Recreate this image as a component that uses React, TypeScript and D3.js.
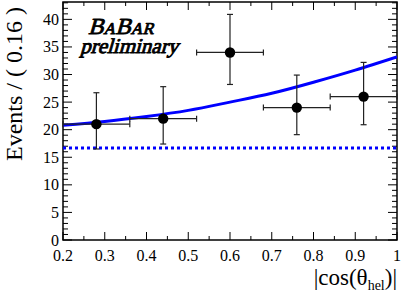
import React from "react";
import * as d3 from "d3";

// data points (bin centres, counts and asymmetric Poisson errors)
const binCenters = [0.28, 0.44, 0.6, 0.76, 0.92];
const binHalfWidth = 0.08;
const events = [21, 22, 34, 24, 26];
const errLow = [16.5, 17.4, 28.2, 19.1, 20.9];
const errHigh = [26.7, 27.8, 40.9, 29.9, 32.2];

// fitted total pdf
const fitX = [0.2, 0.3, 0.4, 0.5, 0.6, 0.7, 0.8, 0.9, 1.0];
const fitY = [20.8, 21.5, 22.4, 23.5, 25.0, 26.6, 28.6, 30.8, 33.2];

// flat background component
const bkgLevel = 16.7;

const xTicks = [0.2, 0.3, 0.4, 0.5, 0.6, 0.7, 0.8, 0.9, 1];
const yTicks = [0, 5, 10, 15, 20, 25, 30, 35, 40];

const W = 401;
const H = 294;
const left = 63;
const right = 397;
const top = 2;
const bottom = 240;
const serif = "'Liberation Serif', 'Times New Roman', Times, serif";

export default function App() {
  const x = d3.scaleLinear().domain([0.2, 1]).range([left, right]);
  const y = d3.scaleLinear().domain([0, 43.15]).range([bottom, top]);

  const fitLine = d3
    .line<number>()
    .x((d, i) => x(fitX[i]))
    .y((d) => y(d))
    .curve(d3.curveNatural);

  const xMinor = d3.range(0.2, 1.0001, 0.05);
  const yMinor = d3.range(0, 43.1, 1);

  return (
    <svg
      width={W}
      height={H}
      style={{ position: "absolute", left: 0, top: 0, background: "#fff" }}
      fontFamily={serif}
    >
      <defs>
        <clipPath id="plot">
          <rect x={left} y={top} width={right - left} height={bottom - top} />
        </clipPath>
      </defs>

      {/* frame */}
      <rect
        x={left}
        y={top}
        width={right - left}
        height={bottom - top}
        fill="none"
        stroke="#000"
        strokeWidth={1.5}
      />

      {/* x ticks, bottom and top */}
      {xMinor.map((t, i) => {
        const major = i % 2 === 0;
        const len = major ? 8 : 4;
        return (
          <g key={"xt" + i} stroke="#000" strokeWidth={1}>
            <line x1={x(t)} x2={x(t)} y1={bottom} y2={bottom - len} />
            <line x1={x(t)} x2={x(t)} y1={top} y2={top + len} />
          </g>
        );
      })}
      {/* y ticks, left and right */}
      {yMinor.map((t, i) => {
        const major = i % 5 === 0;
        const len = major ? 9 : 5;
        return (
          <g key={"yt" + i} stroke="#000" strokeWidth={1}>
            <line x1={left} x2={left + len} y1={y(t)} y2={y(t)} />
            <line x1={right} x2={right - len} y1={y(t)} y2={y(t)} />
          </g>
        );
      })}

      {xTicks.map((t) => (
        <text
          key={"xl" + t}
          x={x(t)}
          y={261}
          fontSize={16}
          textAnchor="middle"
        >
          {t}
        </text>
      ))}
      {yTicks.map((t) => (
        <text
          key={"yl" + t}
          x={59}
          y={y(t) + 5.5}
          fontSize={16}
          textAnchor="end"
        >
          {t}
        </text>
      ))}

      {/* axis titles */}
      <text
        transform="translate(22,161) rotate(-90)"
        fontSize={24}
        textAnchor="start"
      >
        Events / ( 0.16 )
      </text>
      <text x={397} y={285} fontSize={23} textAnchor="end">
        |cos(θ
        <tspan fontSize={14} dy={5}>
          hel
        </tspan>
        <tspan dy={-5}>)|</tspan>
      </text>

      {/* curves */}
      <g clipPath="url(#plot)">
        <line
          x1={left}
          x2={right}
          y1={y(bkgLevel)}
          y2={y(bkgLevel)}
          stroke="#0000ff"
          strokeWidth={3}
          strokeDasharray="3,3"
        />
        <path
          d={fitLine(fitY) || ""}
          fill="none"
          stroke="#0000ff"
          strokeWidth={3}
        />
      </g>

      {/* data points */}
      {binCenters.map((c, i) => {
        const cx = x(c);
        const cy = y(events[i]);
        const x0 = x(c - binHalfWidth);
        const x1 = x(c + binHalfWidth);
        const yLo = y(errLow[i]);
        const yHi = y(errHigh[i]);
        return (
          <g key={"pt" + i} stroke="#222" strokeWidth={1.2}>
            <line x1={x0} x2={x1} y1={cy} y2={cy} />
            <line x1={x0} x2={x0} y1={cy - 3} y2={cy + 3} />
            <line x1={x1} x2={x1} y1={cy - 3} y2={cy + 3} />
            <line x1={cx} x2={cx} y1={yLo} y2={yHi} />
            <line x1={cx - 3} x2={cx + 3} y1={yLo} y2={yLo} />
            <line x1={cx - 3} x2={cx + 3} y1={yHi} y2={yHi} />
            <circle cx={cx} cy={cy} r={5.2} fill="#000" stroke="none" />
          </g>
        );
      })}

      {/* BaBar logo: serif, slanted and emboldened by hand */}
      <g
        fontFamily="'Liberation Serif', serif"
        stroke="#000"
        strokeWidth={0.9}
        strokeLinejoin="round"
      >
        <text transform="translate(88,33.5) skewX(-16)" fontSize={23}>
          B<tspan fontSize={16.5}>A</tspan>B<tspan fontSize={16.5}>AR</tspan>
        </text>
        <text transform="translate(80,53) skewX(-16)" fontSize={21}>
          preliminary
        </text>
      </g>
    </svg>
  );
}
